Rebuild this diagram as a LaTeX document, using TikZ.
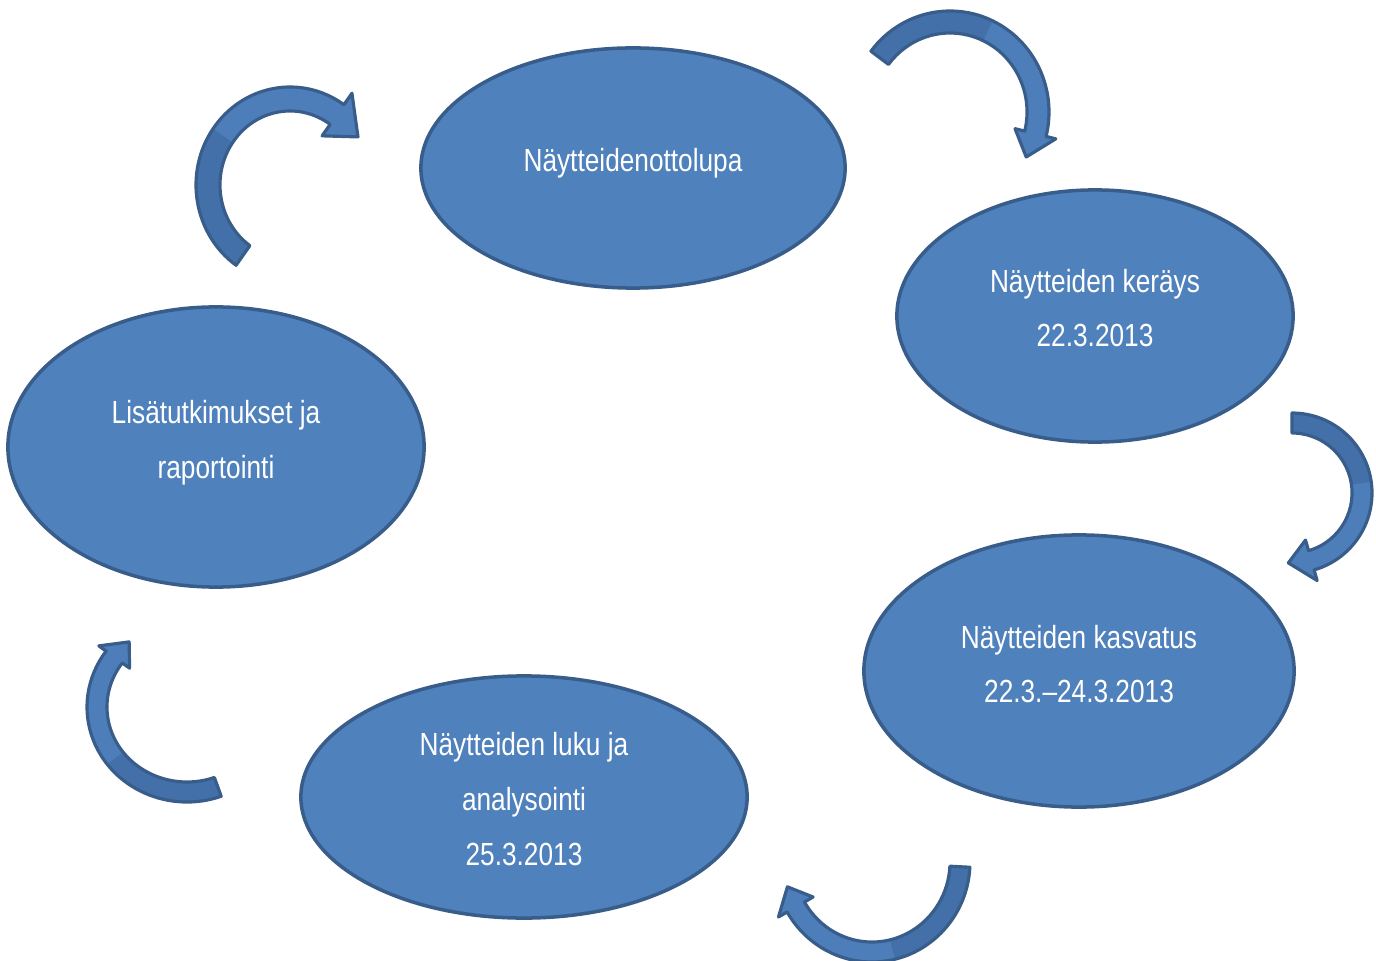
\documentclass[tikz,border=0pt]{standalone}
\usepackage{fontspec}
\setmainfont{Liberation Sans}[FakeStretch=0.82]
\usetikzlibrary{shapes.geometric}
\definecolor{efill}{HTML}{4F81BD}
\definecolor{eline}{HTML}{385D8A}
\definecolor{afill}{HTML}{4D7EBA}
\definecolor{adark}{HTML}{4370A8}
\tikzset{
  stage/.style={ellipse, draw=eline, fill=efill, line width=1pt, inner sep=0pt},
  lbl/.style={text=white, font=\fontsize{9.1}{15.6}\selectfont, align=center, inner sep=0pt},
  carr/.style={draw=eline, line width=0.9pt, line join=round},
}
% #1 centre, #2 rx, #3 ry, #4 tail angle, #5 head-base angle, #6 tip angle, #7 body width, #8 head width
\newcommand{\curvarrow}[8]{%
  \pgfmathsetmacro{\rxo}{#2+#7/2}\pgfmathsetmacro{\ryo}{#3+#7/2}%
  \pgfmathsetmacro{\rxi}{#2-#7/2}\pgfmathsetmacro{\ryi}{#3-#7/2}%
  \pgfmathsetmacro{\hxo}{#2+#8/2}\pgfmathsetmacro{\hyo}{#3+#8/2}%
  \pgfmathsetmacro{\hxi}{#2-#8/2}\pgfmathsetmacro{\hyi}{#3-#8/2}%
  \pgfmathsetmacro{\amid}{(#4+#5)/2}%
  \fill[afill] ([shift={({\rxo*cos(#4)},{\ryo*sin(#4)})}]#1)
    arc[start angle=#4,end angle=#5,x radius=\rxo,y radius=\ryo]
    -- ([shift={({\hxo*cos(#5)},{\hyo*sin(#5)})}]#1)
    -- ([shift={({#2*cos(#6)},{#3*sin(#6)})}]#1)
    -- ([shift={({\hxi*cos(#5)},{\hyi*sin(#5)})}]#1)
    -- ([shift={({\rxi*cos(#5)},{\ryi*sin(#5)})}]#1)
    arc[start angle=#5,end angle=#4,x radius=\rxi,y radius=\ryi] -- cycle;
  \fill[adark] ([shift={({\rxo*cos(#4)},{\ryo*sin(#4)})}]#1)
    arc[start angle=#4,end angle=\amid,x radius=\rxo,y radius=\ryo]
    -- ([shift={({\rxi*cos(\amid)},{\ryi*sin(\amid)})}]#1)
    arc[start angle=\amid,end angle=#4,x radius=\rxi,y radius=\ryi] -- cycle;
  \draw[carr] ([shift={({\rxo*cos(#4)},{\ryo*sin(#4)})}]#1)
    arc[start angle=#4,end angle=#5,x radius=\rxo,y radius=\ryo]
    -- ([shift={({\hxo*cos(#5)},{\hyo*sin(#5)})}]#1)
    -- ([shift={({#2*cos(#6)},{#3*sin(#6)})}]#1)
    -- ([shift={({\hxi*cos(#5)},{\hyi*sin(#5)})}]#1)
    -- ([shift={({\rxi*cos(#5)},{\ryi*sin(#5)})}]#1)
    arc[start angle=#5,end angle=#4,x radius=\rxi,y radius=\ryi] -- cycle;
}
\begin{document}
\begin{tikzpicture}[x=0.01cm,y=-0.01cm]
\useasboundingbox (0,0) rectangle (1376,961);
% stages
\node[stage, minimum width=4.24cm, minimum height=2.40cm] (e1) at (633,168) {};
\node[stage, minimum width=3.96cm, minimum height=2.52cm] (e2) at (1095,316) {};
\node[stage, minimum width=4.30cm, minimum height=2.72cm] (e3) at (1079,671) {};
\node[stage, minimum width=4.46cm, minimum height=2.42cm] (e4) at (524,797) {};
\node[stage, minimum width=4.16cm, minimum height=2.80cm] (e5) at (216,447) {};
% labels
\node[lbl] (t1) at (633,163) {Näytteidenottolupa};
\node[lbl] (t2) at (1095,308) {Näytteiden keräys\\22.3.2013};
\node[lbl] (t3) at (1079,664) {Näytteiden kasvatus\\22.3.–24.3.2013};
\node[lbl] (t4) at (524,799) {Näytteiden luku ja\\analysointi\\25.3.2013};
\node[lbl] (t5) at (216,443) {Lisätutkimukset ja\\raportointi};
% curved arrows
\coordinate (cA) at (950,112);
\coordinate (cB) at (290,185);
\coordinate (cC) at (1292,493);
\coordinate (cD) at (872,862);
\coordinate (cE) at (187,707);
\curvarrow{cA}{88}{90}{217}{374}{390}{22}{42}
\curvarrow{cB}{82}{86}{125}{305}{326}{24}{52}
\curvarrow{cC}{70}{70}{270}{434}{453}{20}{42}
\curvarrow{cD}{88}{90}{3}{150}{164}{20}{40}
\curvarrow{cE}{90}{85}{70}{216}{230}{20}{38}
\end{tikzpicture}
\end{document}
